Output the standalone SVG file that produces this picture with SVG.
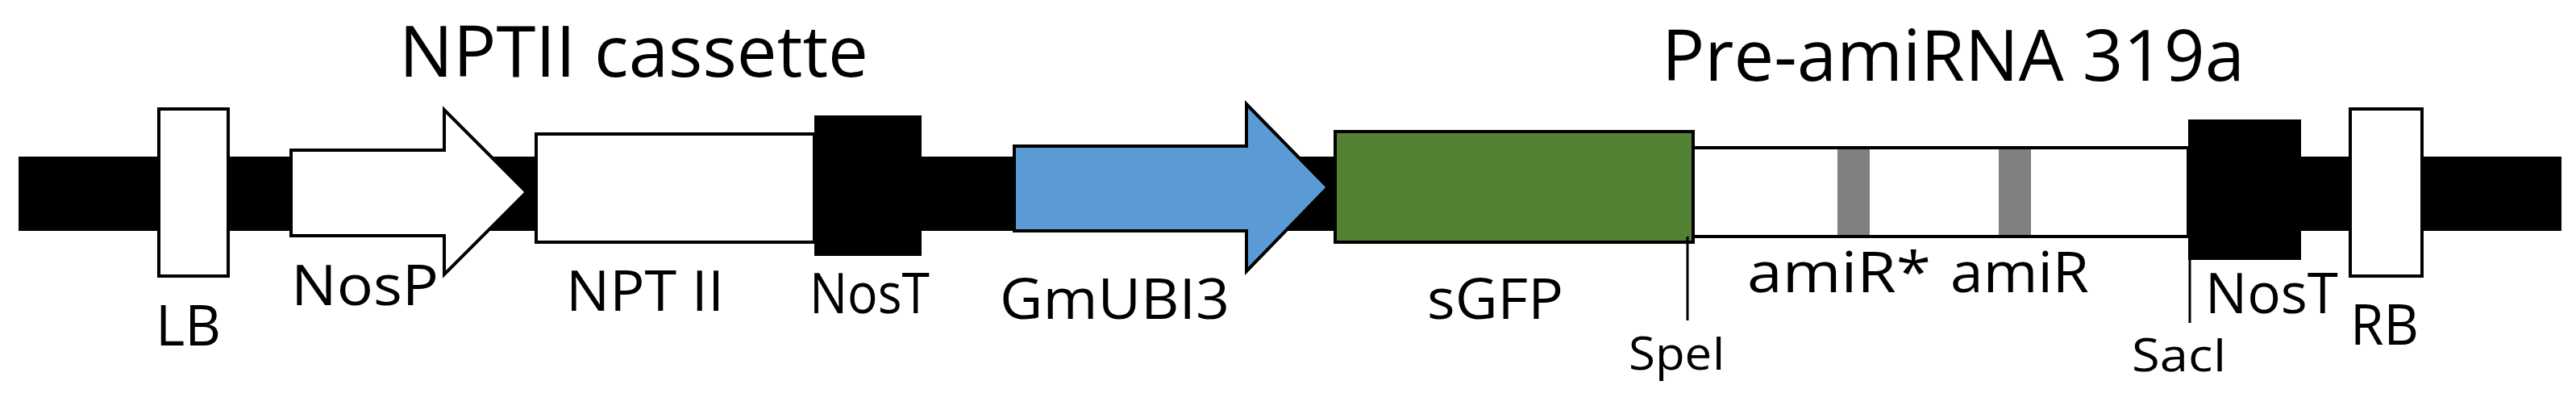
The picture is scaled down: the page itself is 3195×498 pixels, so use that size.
<svg xmlns="http://www.w3.org/2000/svg" width="3195" height="498" viewBox="0 0 3195 498">
<style>
text{font-family:"Open Sans","DejaVu Sans",sans-serif;fill:#000}
.t{font-size:88px}
.l{font-size:70px}
.s{font-size:56px}
.o{stroke:#000;stroke-width:4}
</style>
<rect width="3195" height="498" fill="#fff"/>
<g id="backbone"><rect x="23" y="194" width="3154" height="92" fill="#000"/></g>
<g id="LB"><rect class="o" x="197" y="135" width="86" height="207" fill="#fff"/><text class="l" x="193" y="428" textLength="81" lengthAdjust="spacingAndGlyphs">LB</text></g>
<g id="NosP"><path class="o" d="M361,186 H551 V136 L653,238 L551,340 V292 H361 Z" fill="#fff" stroke-width="3"/><text class="l" x="361" y="378" textLength="183" lengthAdjust="spacingAndGlyphs">NosP</text></g>
<g id="NPTII"><rect class="o" x="665" y="166" width="345" height="134" fill="#fff"/><text class="l" x="702" y="385" textLength="196" lengthAdjust="spacingAndGlyphs">NPT II</text></g>
<g id="NosT1"><rect x="1010" y="143" width="133" height="174" fill="#000"/><text class="l" x="1004" y="388" textLength="149" lengthAdjust="spacingAndGlyphs">NosT</text></g>
<g id="GmUBI3"><path class="o" d="M1258,181 H1546 V129 L1647,232 L1546,336 V286 H1258 Z" fill="#5b9bd5" stroke-width="3"/><text class="l" x="1240" y="395" textLength="285" lengthAdjust="spacingAndGlyphs">GmUBI3</text></g>
<g id="sGFP"><rect class="o" x="1656" y="163" width="444" height="137" fill="#548235"/><text class="l" x="1770" y="395" textLength="169" lengthAdjust="spacingAndGlyphs">sGFP</text></g>
<g id="preamiRNA"><rect class="o" x="2100" y="183" width="614" height="110" fill="#fff"/>
<rect x="2279" y="185" width="40" height="106" fill="#808080"/><rect x="2479" y="185" width="40" height="106" fill="#808080"/>
<text class="l" x="2167" y="362" textLength="228" lengthAdjust="spacingAndGlyphs">amiR*</text>
<text class="l" x="2419" y="362" textLength="172" lengthAdjust="spacingAndGlyphs">amiR</text></g>
<g id="NosT2"><rect x="2714" y="148" width="140" height="174" fill="#000"/><text class="l" x="2735" y="388" textLength="165" lengthAdjust="spacingAndGlyphs">NosT</text></g>
<g id="RB"><rect class="o" x="2915" y="135" width="89" height="207" fill="#fff"/><text class="l" x="2915" y="427" textLength="85" lengthAdjust="spacingAndGlyphs">RB</text></g>
<g id="connectors"><line x1="2093" y1="293" x2="2093" y2="397" stroke="#000" stroke-width="3"/><line x1="2716" y1="300" x2="2716" y2="400" stroke="#000" stroke-width="3"/></g>
<g id="sites"><text class="s" x="2020" y="458" textLength="120" lengthAdjust="spacingAndGlyphs">SpeI</text><text class="s" x="2644" y="460" textLength="118" lengthAdjust="spacingAndGlyphs">SacI</text></g>
<g id="titles"><text class="t" x="495" y="95" textLength="582" lengthAdjust="spacingAndGlyphs">NPTII cassette</text><text class="t" x="2061" y="100" textLength="723" lengthAdjust="spacingAndGlyphs">Pre-amiRNA 319a</text></g>
</svg>
